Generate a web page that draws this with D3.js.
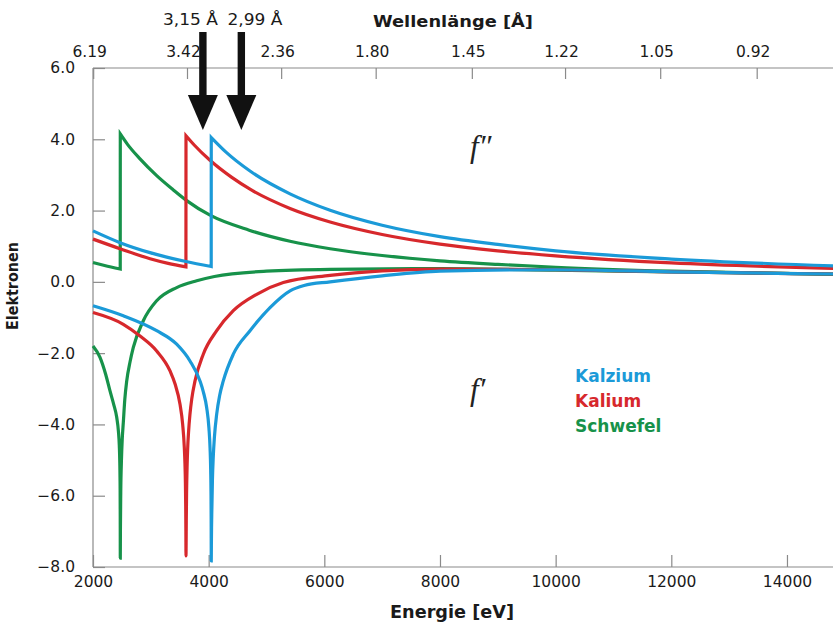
<!DOCTYPE html>
<html>
<head>
<meta charset="utf-8">
<script src="https://cdn.jsdelivr.net/npm/d3@7"></script>
<style>
  body { margin: 0; background: #fff; }
  svg { display: block; font-family: "DejaVu Sans", sans-serif; }
</style>
</head>
<body>
<div id="chart"></div>
<script>
// Energy ticks (bottom) and wavelength ticks (top)
const energyTicks = [2000, 4000, 6000, 8000, 10000, 12000, 14000];
const yTicks = [6, 4, 2, 0, -2, -4, -6, -8];
const wavelengthLabels = ["6.19", "3.42", "2.36", "1.80", "1.45", "1.22", "1.05", "0.92"];
const HC = 12398.4; // eV * Angstrom

// Arrow markers (drawn positions, in eV)
const edgeLabels = ["3,15 Å", "2,99 Å"];
const edgeEnergies = [3900, 4565];

// f'' (absorption) - below-edge and above-edge parts
// Schwefel (K-edge ~2472 eV)
const sPreE  = [2000, 2200, 2471];
const sPreF2 = [0.54, 0.46, 0.36];
const sPostE  = [2472, 2600, 2813, 3101, 3389, 3620, 4023, 4700, 5407, 6100, 7000, 8000, 9000, 10000, 12000, 14800];
const sPostF2 = [4.15, 3.85, 3.45, 2.98, 2.58, 2.28, 1.87, 1.45, 1.14, 0.93, 0.74, 0.59, 0.49, 0.41, 0.30, 0.21];
// Kalium (K-edge ~3608 eV)
const kPreE  = [2000, 2467, 2986, 3300, 3607];
const kPreF2 = [1.20, 0.93, 0.65, 0.52, 0.42];
const kPostE  = [3608, 3750, 4023, 4400, 4715, 5407, 6100, 7000, 8000, 9000, 10000, 12000, 14800];
const kPostF2 = [4.10, 3.84, 3.41, 2.93, 2.60, 2.06, 1.68, 1.33, 1.06, 0.87, 0.73, 0.53, 0.38];
// Kalzium (K-edge ~4045 eV)
const caPreE  = [2000, 2467, 2986, 3608, 4044];
const caPreF2 = [1.43, 1.10, 0.82, 0.57, 0.43];
const caPostE  = [4045, 4300, 4715, 5407, 6100, 7000, 8000, 9000, 10000, 12000, 14800];
const caPostF2 = [4.05, 3.64, 3.11, 2.47, 2.01, 1.59, 1.27, 1.05, 0.87, 0.64, 0.45];

// f' (dispersion)
const sE  = [2000, 2121, 2220, 2294, 2360, 2410, 2440, 2455, 2463, 2469, 2471, 2472, 2474, 2480, 2492, 2506, 2524, 2550, 2583, 2640, 2697, 2870, 3101, 3447, 3793, 4100, 5000, 6100, 8000, 10000, 12000, 14800];
const sF1 = [-1.80, -2.12, -2.60, -3.06, -3.45, -3.80, -4.20, -4.60, -5.05, -5.80, -6.60, -7.75, -7.00, -5.90, -5.00, -4.40, -3.95, -3.30, -2.78, -2.25, -1.84, -1.09, -0.53, -0.16, 0.03, 0.15, 0.30, 0.35, 0.37, 0.33, 0.28, 0.22];
const kE  = [2000, 2524, 2813, 3101, 3332, 3418, 3504, 3550, 3579, 3590, 3598, 3603, 3606, 3608, 3610, 3613, 3618, 3628, 3637, 3653, 3677, 3708, 3764, 3907, 4139, 4426, 4831, 5291, 6100, 7000, 8000, 10000, 12000, 14800];
const kF1 = [-0.86, -1.19, -1.52, -1.94, -2.50, -2.86, -3.43, -3.99, -4.65, -5.10, -5.65, -6.30, -7.00, -7.69, -7.40, -6.70, -5.93, -5.12, -4.68, -4.20, -3.71, -3.28, -2.78, -2.03, -1.37, -0.81, -0.35, -0.02, 0.18, 0.31, 0.36, 0.34, 0.28, 0.22];
const caE  = [2000, 2524, 3101, 3447, 3677, 3850, 3910, 3966, 4005, 4024, 4035, 4040, 4043, 4045, 4047, 4050, 4055, 4065, 4080, 4100, 4139, 4190, 4253, 4426, 4715, 5061, 5407, 5650, 6100, 7000, 8000, 10000, 12000, 14800];
const caF1 = [-0.67, -0.95, -1.37, -1.75, -2.22, -2.78, -3.10, -3.53, -4.11, -4.66, -5.29, -5.88, -6.66, -7.83, -7.40, -6.90, -6.40, -5.57, -4.90, -4.35, -3.71, -3.19, -2.78, -2.03, -1.37, -0.72, -0.25, -0.10, 0.00, 0.17, 0.30, 0.34, 0.28, 0.22];

const legendNames = ["Kalzium", "Kalium", "Schwefel"];
const colors = { Kalzium: "#1b9ad8", Kalium: "#d7282c", Schwefel: "#17924a" };

const W = 833, H = 626;
const svg = d3.select("#chart").append("svg").attr("width", W).attr("height", H);

const x = d3.scaleLinear().domain([2000, 15000]).range([93, 844.8]);
const y = d3.scaleLinear().domain([-8, 6]).range([567, 68]);

const axisColor = "#8a8a8a";
const labelColor = "#1a1a1a";

// Bottom axis (ticks pointing inward)
const bottomAxis = svg.append("g").attr("transform", "translate(0,567)")
  .call(d3.axisBottom(x).tickValues(energyTicks).tickSizeInner(-12).tickSizeOuter(0).tickPadding(9).tickFormat(d3.format("d")));
// Top axis (wavelength)
const topAxis = svg.append("g").attr("transform", "translate(0,68)")
  .call(d3.axisTop(x).tickValues(wavelengthLabels.map(l => HC / +l)).tickSizeInner(-11).tickSizeOuter(0).tickPadding(0)
    .tickFormat((d, i) => wavelengthLabels[i]));
// Left axis
const leftAxis = svg.append("g").attr("transform", "translate(93,0)")
  .call(d3.axisLeft(y).tickValues(yTicks).tickSizeInner(-12).tickSizeOuter(0).tickPadding(18)
    .tickFormat(d => d3.format(".1f")(d).replace("-", "\u2212")));

[bottomAxis, topAxis, leftAxis].forEach(g => {
  g.attr("font-family", "DejaVu Sans");
  g.select(".domain").attr("stroke", axisColor).attr("stroke-width", 1.2);
  g.selectAll(".tick line").attr("stroke", axisColor).attr("stroke-width", 1.2);
  g.selectAll(".tick text").attr("fill", labelColor).style("font-size", "15.5px");
});
bottomAxis.select(".domain").attr("d", "M93,0H833");
topAxis.select(".domain").attr("d", "M93,0H833");
topAxis.selectAll(".tick text").attr("y", -11).attr("x", -4);
leftAxis.select(".domain").attr("d", "M0,68V567");

// Axis titles
svg.append("text").attr("x", 453).attr("y", 27).attr("text-anchor", "middle")
  .attr("font-weight", "bold").style("font-size", "16.5px").attr("fill", labelColor)
  .attr("textLength", 160).attr("lengthAdjust", "spacingAndGlyphs")
  .text("Wellenlänge [Å]");
svg.append("text").attr("x", 452).attr("y", 618).attr("text-anchor", "middle")
  .attr("font-weight", "bold").style("font-size", "17.5px").attr("fill", labelColor)
  .attr("textLength", 124).attr("lengthAdjust", "spacingAndGlyphs")
  .text("Energie [eV]");
svg.append("text").attr("transform", "translate(18,286) rotate(-90)").attr("text-anchor", "middle")
  .attr("font-weight", "bold").style("font-size", "16px").attr("fill", labelColor)
  .attr("textLength", 88).attr("lengthAdjust", "spacingAndGlyphs")
  .text("Elektronen");

// Curves
const line = d3.line().x(d => x(d[0])).y(d => y(d[1])).curve(d3.curveMonotoneX);
const zip = (a, b) => a.map((v, i) => [v, b[i]]);

function stepPath(preE, preV, postE, postV) {
  const a = line(zip(preE, preV));
  const b = line(zip(postE, postV));
  return a + "L" + b.slice(1);
}

const series = [
  { name: "Schwefel", f2: stepPath(sPreE, sPreF2, sPostE, sPostF2), f1: line(zip(sE, sF1)) },
  { name: "Kalium", f2: stepPath(kPreE, kPreF2, kPostE, kPostF2), f1: line(zip(kE, kF1)) },
  { name: "Kalzium", f2: stepPath(caPreE, caPreF2, caPostE, caPostF2), f1: line(zip(caE, caF1)) }
];

const curves = svg.append("g").attr("fill", "none").attr("stroke-width", 3.2)
  .attr("stroke-linejoin", "miter").attr("stroke-linecap", "butt");
series.forEach(s => {
  curves.append("path").attr("d", s.f2).attr("stroke", colors[s.name]);
  curves.append("path").attr("d", s.f1).attr("stroke", colors[s.name]);
});

// Arrows marking the wavelengths
const arrows = svg.append("g");
edgeEnergies.forEach(e => {
  const cx = x(e);
  arrows.append("rect").attr("x", cx - 3.7).attr("y", 32).attr("width", 7.4).attr("height", 66).attr("fill", "#111");
  arrows.append("path").attr("d", `M${cx - 15},95L${cx + 15},95L${cx},130Z`).attr("fill", "#111");
});
svg.append("g").selectAll("text").data(edgeLabels).join("text")
  .attr("x", (d, i) => [190.5, 255][i]).attr("y", 25).attr("text-anchor", "middle")
  .style("font-size", "16.5px").attr("fill", labelColor)
  .attr("textLength", 55).attr("lengthAdjust", "spacingAndGlyphs")
  .text(d => d);

// f'' and f' labels
svg.append("text").attr("x", 470).attr("y", 157)
  .style("font-family", "'Liberation Serif', serif").style("font-style", "italic").style("font-size", "31px")
  .attr("fill", "#222").text("f\u2033");
svg.append("text").attr("x", 470).attr("y", 400)
  .style("font-family", "'Liberation Serif', serif").style("font-style", "italic").style("font-size", "31px")
  .attr("fill", "#222").text("f\u2032");

// Legend
svg.append("g").selectAll("text").data(legendNames).join("text")
  .attr("x", 575).attr("y", (d, i) => 382 + i * 25)
  .attr("font-weight", "bold").style("font-size", "17px")
  .attr("fill", d => colors[d])
  .text(d => d);
</script>
</body>
</html>
